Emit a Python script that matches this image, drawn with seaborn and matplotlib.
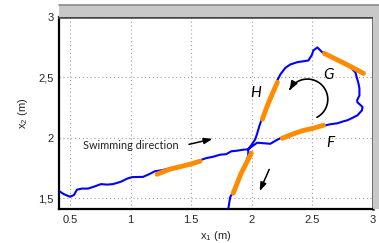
import numpy as np
import pandas as pd
import matplotlib
matplotlib.use("Agg")
import matplotlib.pyplot as plt
import seaborn as sns
from matplotlib.patches import Rectangle

# ---- data ----
path_x1 = [0.409, 0.450, 0.500, 0.533, 0.558, 0.599, 0.649, 0.698, 0.756, 0.806,
           0.855, 0.921, 0.971, 1.012, 1.103, 1.153, 1.202, 1.260, 1.326, 1.409,
           1.492, 1.574, 1.624, 1.682, 1.740, 1.789, 1.831, 1.880, 1.930, 1.971,
           2.004, 2.045, 2.095, 2.153, 2.202, 2.252, 2.318, 2.401, 2.483, 2.550,
           2.591, 2.649, 2.707, 2.756, 2.789, 2.831, 2.872, 2.909, 2.913, 2.872,
           2.869, 2.888, 2.888, 2.880, 2.864, 2.855, 2.814, 2.764, 2.707, 2.657,
           2.616, 2.580, 2.541, 2.508, 2.496, 2.467, 2.417, 2.376, 2.318, 2.277,
           2.236, 2.211, 2.194, 2.169, 2.136, 2.103, 2.079, 2.062, 2.045, 2.029,
           1.996, 1.971, 1.971, 1.955, 1.921, 1.888, 1.855, 1.822, 1.814, 1.806]
path_x2 = [1.560, 1.533, 1.512, 1.525, 1.570, 1.579, 1.579, 1.595, 1.616, 1.612,
           1.616, 1.636, 1.661, 1.674, 1.676, 1.698, 1.723, 1.731, 1.748, 1.764,
           1.781, 1.814, 1.831, 1.843, 1.860, 1.864, 1.888, 1.893, 1.901, 1.905,
           1.930, 1.959, 1.955, 1.950, 1.979, 2.004, 2.029, 2.054, 2.079, 2.091,
           2.099, 2.112, 2.120, 2.136, 2.145, 2.165, 2.186, 2.227, 2.256, 2.293,
           2.310, 2.351, 2.409, 2.450, 2.508, 2.541, 2.583, 2.616, 2.640, 2.665,
           2.698, 2.709, 2.748, 2.723, 2.686, 2.640, 2.632, 2.626, 2.607, 2.579,
           2.525, 2.475, 2.409, 2.343, 2.269, 2.202, 2.145, 2.095, 2.037, 1.988,
           1.938, 1.905, 1.855, 1.798, 1.731, 1.649, 1.566, 1.508, 1.459, 1.409]

seg1_x1 = [1.219, 1.326, 1.409, 1.492, 1.574]
seg1_x2 = [1.698, 1.740, 1.760, 1.781, 1.806]
seg2_x1 = [1.996, 1.955, 1.913, 1.880, 1.847]
seg2_x2 = [1.872, 1.789, 1.707, 1.624, 1.541]
seg3_x1 = [2.252, 2.335, 2.417, 2.508, 2.591]
seg3_x2 = [1.996, 2.029, 2.058, 2.079, 2.103]
seg4_x1 = [2.087, 2.120, 2.153, 2.186, 2.211]
seg4_x2 = [2.153, 2.244, 2.326, 2.401, 2.459]
seg5_x1 = [2.599, 2.682, 2.764, 2.847, 2.921]
seg5_x2 = [2.698, 2.657, 2.616, 2.574, 2.533]

x_ticks = [0.5, 1.0, 1.5, 2.0, 2.5, 3.0]
x_tick_labels = ["0.5", "1", "1.5", "2", "2.5", "3"]
y_ticks = [1.5, 2.0, 2.5, 3.0]
y_tick_labels = ["1,5", "2", "2,5", "3"]

# ---- figure ----
sns.set_style("white")
plt.rcParams["font.family"] = ["Liberation Sans", "DejaVu Sans"]
plt.rcParams["mathtext.default"] = "regular"

fig = plt.figure(figsize=(3.79, 2.43), dpi=100)
L, R, B, T = 59 / 379, 373 / 379, 1 - 209 / 243, 1 - 17 / 243
ax = fig.add_axes([L, B, R - L, T - B])

# gray frame bands (top and right)
fig.patches.append(Rectangle((L, T), 1 - L, 1 - 5 / 243 - T, transform=fig.transFigure,
                             facecolor="#c8c8c8", edgecolor="none", zorder=0))
fig.patches.append(Rectangle((R, B), 1 - R, 1 - 5 / 243 - B, transform=fig.transFigure,
                             facecolor="#c8c8c8", edgecolor="none", zorder=0))
fig.lines.append(plt.Line2D([L, 1], [1 - 5 / 243] * 2, transform=fig.transFigure,
                            color="#8a8a8a", lw=1.2))

path = pd.DataFrame({"x1": path_x1, "x2": path_x2})
sns.lineplot(data=path, x="x1", y="x2", sort=False, estimator=None, ax=ax,
             color="#0000ff", lw=1.5, zorder=3)
for sx, sy in [(seg1_x1, seg1_x2), (seg2_x1, seg2_x2), (seg3_x1, seg3_x2),
               (seg4_x1, seg4_x2), (seg5_x1, seg5_x2)]:
    sns.lineplot(x=sx, y=sy, sort=False, estimator=None, ax=ax,
                 color="#ff8c00", lw=3.5, zorder=4, solid_capstyle="round")

ax.set_xlim(0.41, 3.0)
ax.set_ylim(1.41, 3.0)
ax.set_xticks(x_ticks)
ax.set_xticklabels(x_tick_labels)
ax.set_yticks(y_ticks)
ax.set_yticklabels(y_tick_labels)
ax.tick_params(axis="both", labelsize=8, length=0, pad=4)
ax.grid(True, linestyle=(0, (1, 2.5)), color="#a0a0a0", lw=0.8)
ax.set_axisbelow(True)
for s in ["left", "bottom"]:
    ax.spines[s].set_color("black")
    ax.spines[s].set_linewidth(1.6)
for s in ["top", "right"]:
    ax.spines[s].set_color("#444444")
    ax.spines[s].set_linewidth(1.8)
ax.set_xlabel("x$_1$ (m)", fontsize=8, labelpad=3)
ax.set_ylabel("x$_2$ (m)", fontsize=8, labelpad=6)

# annotations
ax.text(0.607, 1.938, "Swimming direction", fontsize=7.8, family="Lato",
        va="center", ha="left", color="#222222", zorder=5)
ax.annotate("", xy=(1.698, 1.996), xytext=(1.46, 1.94),
            arrowprops=dict(arrowstyle="-|>,head_length=0.5,head_width=0.18",
                            color="black", lw=1.1), zorder=5)
ax.annotate("", xy=(2.056, 1.537), xytext=(2.153, 1.759),
            arrowprops=dict(arrowstyle="-|>,head_length=0.5,head_width=0.18",
                            color="black", lw=1.1), zorder=5)
cx, cy, r = 2.459, 2.318, 0.168
ang = np.radians(np.linspace(-62, 150, 80))
ax.plot(cx + r * np.cos(ang), cy + r * np.sin(ang), color="black", lw=1.2, zorder=5)
a1, a2 = np.radians(140), np.radians(160)
ax.annotate("", xy=(cx + r * np.cos(a2), cy + r * np.sin(a2)),
            xytext=(cx + r * np.cos(a1), cy + r * np.sin(a1)),
            arrowprops=dict(arrowstyle="-|>,head_length=0.5,head_width=0.2",
                            color="black", lw=1.2), zorder=5)

for lbl, lx, ly in [("G", 2.632, 2.517), ("H", 2.029, 2.368), ("F", 2.649, 1.955)]:
    ax.text(lx, ly, lbl, fontsize=11, style="italic", family="Lato",
            ha="center", va="center", color="black", zorder=5)

fig.savefig("out.png", dpi=100)
